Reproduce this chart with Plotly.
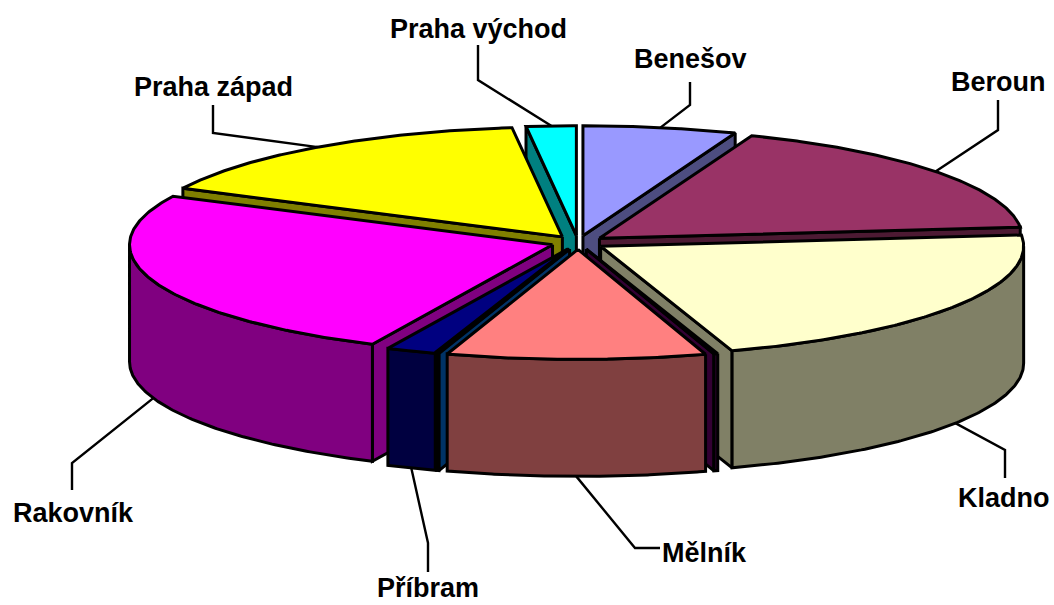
import numpy as np
import plotly.graph_objects as go

# Data (share of the pie, clockwise from 12 o'clock). Two unlabeled hairline slices.
names = ["Benešov", "Beroun", "Kladno", "", "Mělník", "", "Příbram", "Rakovník", "Praha západ", "Praha východ"]
values = [5.86, 17.51, 21.60, 0.15, 9.88, 0.08, 1.92, 25.28, 15.82, 1.90]
top_colors = ["#9999FF", "#993366", "#FFFFCC", "#660066", "#FF8080", "#0066CC", "#000080", "#FF00FF", "#FFFF00", "#00FFFF"]
side_colors = ["#4D4D80", "#4D1A33", "#808066", "#330033", "#804040", "#003366", "#000040", "#800080", "#808000", "#008080"]

# Label layout (page pixels)
label_x = [690, 998, 1004, None, 704, None, 428, 73, 213, 478]
label_y = [59, 82, 498, None, 553, None, 588, 513, 87, 29]
elbow_a_x = [690, 998, 1005, None, 635, None, 428, 72, 213, 478]
elbow_a_y = [105, 130, 450, None, 548, None, 543, 463, 133, 80]
elbow_b_x = [690, 998, 1005, None, 660, None, 428, 72, 213, 478]
elbow_b_y = [82, 100, 478, None, 548, None, 572, 490, 105, 45]

# Pie geometry
CX, CY = 578.0, 242.5
RX, RY = 423.0, 110.0
EXPLODE = 27.0
DEPTH = 117.0
W, H = 1054, 605

fracs = np.array(values) / sum(values)
ends = np.cumsum(fracs) * 2 * np.pi
starts = ends - fracs * 2 * np.pi
mids = (starts + ends) / 2


def rim(ax, ay, t):
    return ax + RX * np.sin(t), ay - RY * np.cos(t)


fig = go.Figure()


def poly(xs, ys, color):
    fig.add_trace(go.Scatter(
        x=list(xs) + [xs[0]], y=list(ys) + [ys[0]], mode="lines", fill="toself",
        fillcolor=color, line=dict(color="black", width=3), hoverinfo="skip", showlegend=False))


order = np.argsort(-np.cos(mids))
apex = {}
for i in range(len(values)):
    apex[i] = (CX + EXPLODE * np.sin(mids[i]), CY - EXPLODE * 0.255 * np.cos(mids[i]))

for i in order:
    a, b = starts[i], ends[i]
    ax, ay = apex[i]
    side, top = side_colors[i], top_colors[i]
    # visible radial cut faces
    if np.sin(a) < 0:
        x0, y0 = rim(ax, ay, a)
        poly([ax, x0, x0, ax], [ay, y0, y0 + DEPTH, ay + DEPTH], side)
    if np.sin(b) > 0:
        x0, y0 = rim(ax, ay, b)
        poly([ax, x0, x0, ax], [ay, y0, y0 + DEPTH, ay + DEPTH], side)
    # visible outer wall
    lo, hi = max(a, np.pi / 2), min(b, 1.5 * np.pi)
    if hi > lo:
        t = np.linspace(lo, hi, 120)
        x0, y0 = rim(ax, ay, t)
        poly(np.r_[x0, x0[::-1]], np.r_[y0, y0[::-1] + DEPTH], side)
    # top face
    t = np.linspace(a, b, 160)
    x0, y0 = rim(ax, ay, t)
    poly(np.r_[ax, x0], np.r_[ay, y0], top)

# Leader lines and labels
annotations = []
for i, name in enumerate(names):
    if not name:
        continue
    ax, ay = apex[i]
    x0, y0 = rim(ax, ay, mids[i])
    if np.cos(mids[i]) < 0:
        y0 += DEPTH
    fig.add_trace(go.Scatter(
        x=[x0, elbow_a_x[i], elbow_b_x[i]], y=[y0, elbow_a_y[i], elbow_b_y[i]], mode="lines",
        line=dict(color="black", width=2.4), hoverinfo="skip", showlegend=False))
    annotations.append(dict(x=label_x[i], y=label_y[i], text=f"<b>{name}</b>", showarrow=False,
                            xanchor="center", yanchor="middle",
                            font=dict(family="Liberation Sans", size=27, color="black")))

fig.update_layout(
    width=W, height=H, margin=dict(l=0, r=0, t=0, b=0),
    paper_bgcolor="white", plot_bgcolor="white", showlegend=False,
    xaxis=dict(range=[0, W], visible=False, fixedrange=True),
    yaxis=dict(range=[H, 0], visible=False, fixedrange=True),
    annotations=annotations,
)
fig.write_html("out.html", config={"displayModeBar": False},
               post_script="document.body.style.margin='0';document.body.style.overflow='hidden';")
